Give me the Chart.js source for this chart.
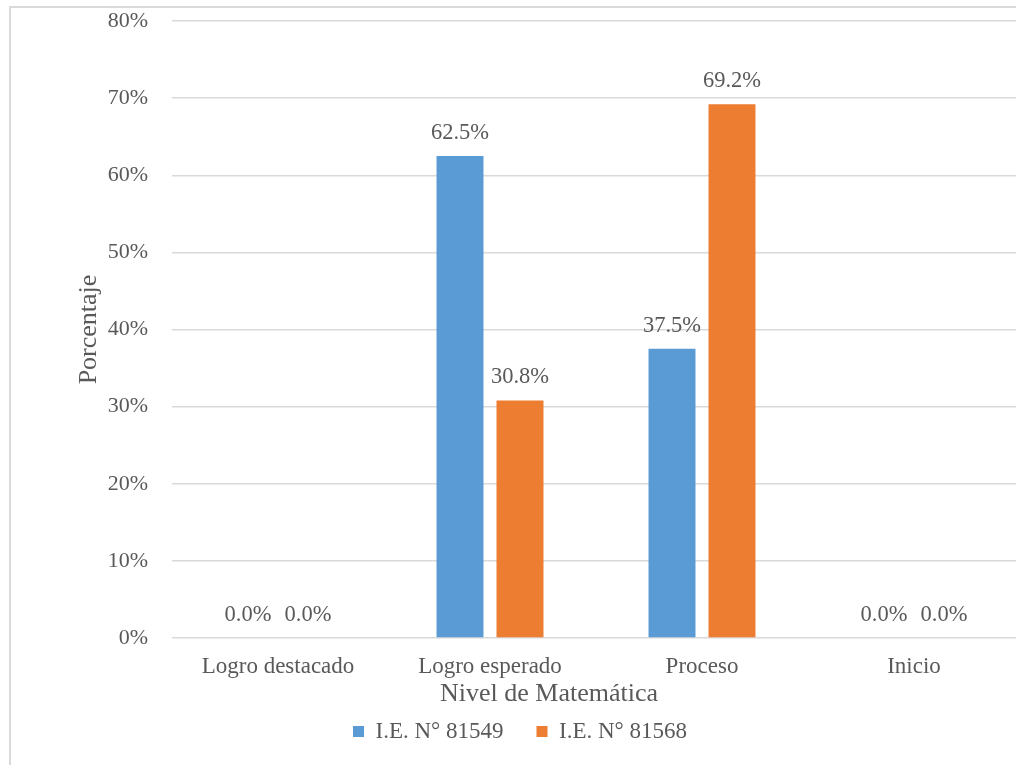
<!DOCTYPE html>
<html>
<head>
<meta charset="utf-8">
<script src="https://cdn.jsdelivr.net/npm/chart.js@4/dist/chart.umd.min.js"></script>
<style>
  html, body { margin: 0; padding: 0; background: #fff; overflow: hidden; width: 1016px; height: 765px; }
  #frame { position: absolute; left: 9px; top: 6px; width: 1100px; height: 900px; border: 2px solid #d9d9d9; }
  #wrap { position: absolute; left: 0; top: 0; width: 1040px; height: 765px; }
</style>
</head>
<body>
<div id="frame"></div>
<div id="wrap"><canvas id="nivelChart" width="1040" height="765"></canvas></div>
<script>
// Datos del gráfico
const categorias = ['Logro destacado', 'Logro esperado', 'Proceso', 'Inicio'];
const ie81549 = [0.0, 62.5, 37.5, 0.0];
const ie81568 = [0.0, 30.8, 69.2, 0.0];
const serieNombres = ['I.E. N° 81549', 'I.E. N° 81568'];
const ticksY = [0, 10, 20, 30, 40, 50, 60, 70, 80];

const fuente = '"Liberation Serif", "Times New Roman", serif';
const gris = '#595959';

// Etiquetas de datos encima de cada barra
const etiquetas = {
    id: 'etiquetas',
    afterDatasetsDraw(chart) {
        const c = chart.ctx;
        c.save();
        c.font = '22.5px ' + fuente;
        c.fillStyle = gris;
        c.textAlign = 'center';
        c.textBaseline = 'middle';
        chart.data.datasets.forEach((ds, i) => {
            chart.getDatasetMeta(i).data.forEach((bar, j) => {
                c.fillText(ds.data[j].toFixed(1) + '%', bar.x, bar.y - 23);
            });
        });
        c.restore();
    }
};

// Título del eje X (centrado como en el original)
const tituloX = {
    id: 'tituloX',
    afterDraw(chart) {
        const c = chart.ctx;
        c.save();
        c.font = '26px ' + fuente;
        c.fillStyle = gris;
        c.textAlign = 'center';
        c.textBaseline = 'middle';
        c.fillText('Nivel de Matemática', 549, 694);
        c.restore();
    }
};

new Chart(document.getElementById('nivelChart'), {
    type: 'bar',
    data: {
        labels: categorias,
        datasets: [
            { label: serieNombres[0], data: ie81549, backgroundColor: '#5B9BD5' },
            { label: serieNombres[1], data: ie81568, backgroundColor: '#ED7D31' }
        ]
    },
    plugins: [etiquetas, tituloX],
    options: {
        responsive: false,
        animation: false,
        categoryPercentage: 0.566,
        barPercentage: 0.783,
        layout: { padding: { top: 21, right: 20, left: 20, bottom: 12 } },
        plugins: {
            legend: {
                position: 'bottom',
                labels: {
                    font: { family: fuente, size: 23 },
                    color: gris,
                    boxWidth: 11,
                    boxHeight: 11,
                    padding: 10,
                    generateLabels(chart) {
                        const items = Chart.defaults.plugins.legend.labels.generateLabels(chart);
                        // separación entre series como en el original
                        items.forEach((it, i) => { if (i < items.length - 1) it.text += '\u2002\u2002'; });
                        return items;
                    }
                }
            },
            tooltip: { enabled: false }
        },
        scales: {
            x: {
                grid: { display: false },
                border: { display: false },
                ticks: { font: { family: fuente, size: 23 }, color: gris, padding: 7, maxRotation: 0 },
                afterFit(scale) { scale.height = 72; }
            },
            y: {
                min: 0,
                max: 80,
                afterBuildTicks(scale) { scale.ticks = ticksY.map(v => ({ value: v })); },
                grid: { color: '#d9d9d9', lineWidth: 1.5, drawTicks: false },
                border: { display: false },
                ticks: {
                    font: { family: fuente, size: 22 },
                    color: gris,
                    padding: 24,
                    callback: v => v + '%'
                },
                title: {
                    display: true,
                    text: 'Porcentaje',
                    font: { family: fuente, size: 26 },
                    color: gris,
                    padding: { top: 54, bottom: 0 }
                },
                afterFit(scale) {
                    scale.width = 152;
                    scale.paddingTop = 0;
                    scale.paddingBottom = 0;
                }
            }
        }
    }
});
</script>
</body>
</html>
